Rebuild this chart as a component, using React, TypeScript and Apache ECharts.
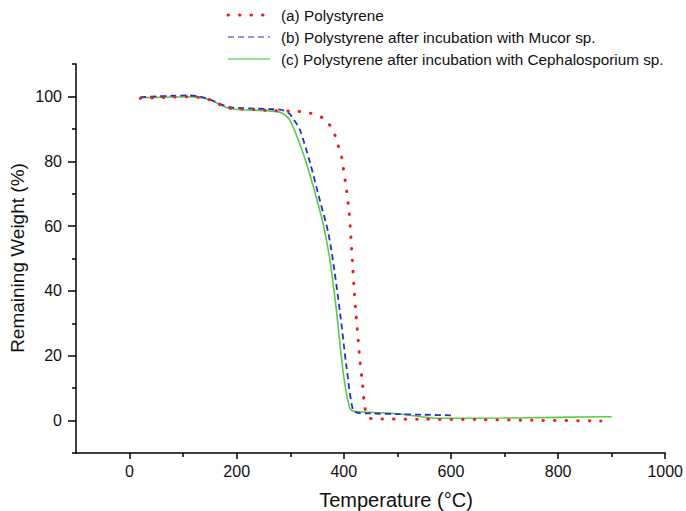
import React, { useEffect, useRef } from "react";
import * as echarts from "echarts";

const seriesNames = [
  "(a) Polystyrene",
  "(b) Polystyrene after incubation with Mucor sp.",
  "(c) Polystyrene after incubation with Cephalosporium sp.",
];

// (a) Polystyrene
const tempA = [20, 50, 80, 110, 130, 145, 160, 175, 190, 210, 240, 268, 309, 330, 352, 362, 371, 383, 389, 396, 399, 405, 410, 413, 416, 419, 422, 425, 430, 435, 439, 444, 449, 470, 550, 650, 750, 880];
const weightA = [99.4, 99.6, 99.8, 99.9, 99.7, 99.2, 98.2, 97.0, 96.3, 96.1, 95.9, 95.6, 95.4, 95.1, 94.1, 93.2, 91.8, 88.2, 85.1, 81.3, 77.9, 71.2, 64.0, 57.0, 49.0, 41.0, 34.0, 28.5, 18.7, 11.0, 4.3, 1.5, 0.7, 0.5, 0.4, 0.3, 0.1, -0.1];

// (b) after incubation with Mucor sp.
const tempB = [20, 50, 80, 110, 130, 145, 160, 175, 190, 210, 240, 262, 281, 290, 299, 308, 318, 337, 355, 371, 383, 393, 405, 417, 426, 450, 500, 550, 605];
const weightB = [99.8, 100.0, 100.2, 100.3, 100.0, 99.4, 98.4, 97.3, 96.6, 96.4, 96.2, 96.1, 95.9, 95.5, 94.6, 92.5, 89.7, 79.5, 68.1, 57.9, 45.6, 33.2, 16.6, 3.3, 2.4, 2.2, 2.0, 1.8, 1.6];

// (c) after incubation with Cephalosporium sp.
const tempC = [20, 50, 80, 110, 130, 145, 160, 175, 190, 210, 240, 262, 275, 285, 299, 324, 343, 361, 374, 386, 399, 411, 421, 440, 470, 500, 530, 566, 600, 700, 800, 900];
const weightC = [99.6, 99.7, 99.8, 99.9, 99.7, 99.2, 98.2, 97.0, 96.2, 95.9, 95.7, 95.5, 95.3, 94.8, 92.8, 82.5, 72.2, 60.9, 49.6, 34.2, 14.7, 3.9, 2.8, 2.6, 2.4, 2.1, 1.5, 0.8, 0.7, 0.8, 1.0, 1.2];

const xMajorTicks = [0, 200, 400, 600, 800, 1000];
const xMinorTicks = [100, 300, 500, 700, 900];
const yMajorTicks = [0, 20, 40, 60, 80, 100];
const yMinorTicks = [-10, 10, 30, 50, 70, 90, 110];

const FONT = "Arial, 'Liberation Sans', sans-serif";
const colors = ["#ee1c1c", "#2b2bd6", "#55cc44"];
const legendColors = ["#ee1c1c", "#7070e0", "#70d870"];

export default function App() {
  const ref = useRef<HTMLDivElement>(null);
  useEffect(() => {
    if (!ref.current) return;
    const chart = echarts.init(ref.current, undefined, { renderer: "svg" });
    const pair = (t: number[], w: number[]) => t.map((v, i) => [v, w[i]]);
    const axisLine = { show: true, onZero: false, lineStyle: { color: "#000", width: 1.5 } };
    const tickStyle = { color: "#000", width: 1.5 };
    const legendY = [15, 37, 59];
    const dashes: any[] = [[0.5, 11], [6, 4], "solid"];
    const widths = [3, 1.5, 1.5];
    const graphic: any[] = [];
    seriesNames.forEach((n, i) => {
      graphic.push({
        type: "line",
        shape: { x1: 228, y1: legendY[i], x2: 270, y2: legendY[i] },
        style: { stroke: legendColors[i], lineWidth: widths[i], lineDash: dashes[i] === "solid" ? null : dashes[i], lineCap: i === 0 ? "round" : "butt" },
      });
      graphic.push({
        type: "text",
        x: 281,
        y: legendY[i],
        style: { text: n, fontSize: 15.3, fontFamily: FONT, fill: "#111", textVerticalAlign: "middle", textAlign: "left" },
      });
    });
    graphic.push({
      type: "text",
      x: 396,
      y: 500,
      style: { text: "Temperature (°C)", fontSize: 20, fontFamily: FONT, fill: "#111", textAlign: "center", textVerticalAlign: "middle" },
    });
    graphic.push({
      type: "text",
      x: 17,
      y: 258,
      rotation: Math.PI / 2,
      style: { text: "Remaining Weight (%)", fontSize: 19, fontFamily: FONT, fill: "#111", textAlign: "center", textVerticalAlign: "middle" },
    });

    const fmt = (v: number) => String(v);

    chart.setOption({
      animation: false,
      backgroundColor: "#fff",
      grid: { left: 76, right: 20, top: 64, bottom: 58, containLabel: false },
      xAxis: [
        {
          type: "value", min: -100, max: 1000, position: "bottom",
          axisLine,
          axisTick: { show: true, customValues: xMajorTicks, length: 6, lineStyle: tickStyle },
          axisLabel: { customValues: xMajorTicks, formatter: fmt, margin: 10, fontSize: 16, color: "#111", fontFamily: FONT },
          splitLine: { show: false },
        },
        {
          type: "value", min: -100, max: 1000, position: "bottom",
          axisLine: { show: false, onZero: false },
          axisTick: { show: true, customValues: xMinorTicks, length: 4, lineStyle: tickStyle },
          axisLabel: { show: false },
          splitLine: { show: false },
        },
      ],
      yAxis: [
        {
          type: "value", min: -10, max: 110, position: "left",
          axisLine,
          axisTick: { show: true, customValues: yMajorTicks, length: 8, lineStyle: tickStyle },
          axisLabel: { customValues: yMajorTicks, formatter: fmt, margin: 14, fontSize: 16, color: "#111", fontFamily: FONT },
          splitLine: { show: false },
        },
        {
          type: "value", min: -10, max: 110, position: "left",
          axisLine: { show: false, onZero: false },
          axisTick: { show: true, customValues: yMinorTicks, length: 4, lineStyle: tickStyle },
          axisLabel: { show: false },
          splitLine: { show: false },
        },
      ],
      graphic,
      series: [
        {
          name: seriesNames[2], type: "line", xAxisIndex: 0, yAxisIndex: 0,
          data: pair(tempC, weightC), showSymbol: false, symbol: "none",
          smooth: 0.3, z: 2,
          lineStyle: { color: colors[2], width: 1.6 },
        },
        {
          name: seriesNames[1], type: "line", xAxisIndex: 0, yAxisIndex: 0,
          data: pair(tempB, weightB), showSymbol: false, symbol: "none",
          smooth: 0.3, z: 3,
          lineStyle: { color: colors[1], width: 1.8, type: [6, 4] },
        },
        {
          name: seriesNames[0], type: "line", xAxisIndex: 0, yAxisIndex: 0,
          data: pair(tempA, weightA), showSymbol: false, symbol: "none",
          smooth: 0.3, z: 4,
          lineStyle: { color: colors[0], width: 3, type: [0.5, 11], cap: "round" },
        },
      ],
    });
    return () => chart.dispose();
  }, []);
  return (
    <div
      ref={ref}
      style={{ position: "fixed", left: 0, top: 0, width: 686, height: 511, background: "#fff" }}
    />
  );
}
